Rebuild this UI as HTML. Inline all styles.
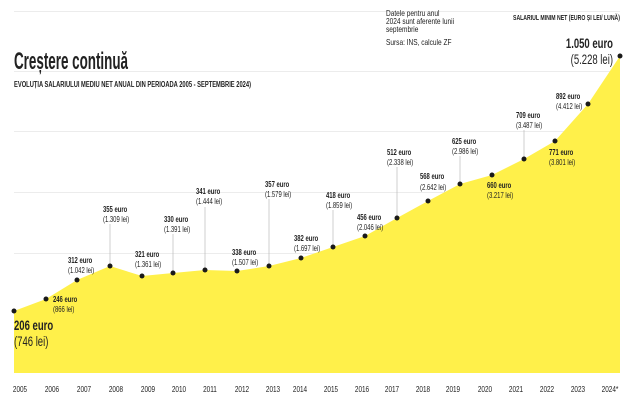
<!DOCTYPE html>
<html><head><meta charset="utf-8"><style>
html,body{margin:0;padding:0;background:#fff;width:629px;height:400px;overflow:hidden}
svg{display:block}
text{font-family:"Liberation Sans Narrow","Liberation Sans",sans-serif;fill:#222}
.b{font-weight:bold}
.c{transform-box:fill-box;transform-origin:0 0;transform:scaleX(.74)}
.cm{transform-box:fill-box;transform-origin:50% 0;transform:scaleX(.8)}
.ce{transform-box:fill-box;transform-origin:100% 0;transform:scaleX(.68)}
.cb{transform-box:fill-box;transform-origin:0 0;transform:scaleX(.68)}
.cn{transform-box:fill-box;transform-origin:0 0;transform:scaleX(.82)}
</style></head><body>
<svg width="629" height="400" viewBox="0 0 629 400">
<g stroke="#ececec" stroke-width="1">
<line x1="14" y1="11.5" x2="620" y2="11.5"/>
<line x1="14" y1="71.5" x2="620" y2="71.5"/>
<line x1="14" y1="131.5" x2="620" y2="131.5"/>
<line x1="14" y1="192.5" x2="620" y2="192.5"/>
<line x1="14" y1="253.5" x2="620" y2="253.5"/>
</g>
<polygon fill="#fff04a" points="14,373 14,311 46,299 77,280 110,266 142,276 173,273 205,270 237,271 269,266 301,258 333,247 365,236 397,218 428,201 460,184 492,175 524,159 555,141 588,104 620,56 620,373"/>
<g stroke="#bbb" stroke-width="0.7">
<line x1="110" y1="224" x2="110" y2="266"/>
<line x1="173" y1="234" x2="173" y2="273"/>
<line x1="205" y1="207" x2="205" y2="270"/>
<line x1="269" y1="199" x2="269" y2="266"/>
<line x1="333" y1="210" x2="333" y2="247"/>
<line x1="397" y1="167" x2="397" y2="218"/>
<line x1="460" y1="156" x2="460" y2="184"/>
<line x1="524" y1="130" x2="524" y2="159"/>
</g>
<g fill="#1a1a1a">
<circle cx="14" cy="311" r="2.5"/><circle cx="46" cy="299" r="2.5"/><circle cx="77" cy="280" r="2.5"/><circle cx="110" cy="266" r="2.5"/><circle cx="142" cy="276" r="2.5"/><circle cx="173" cy="273" r="2.5"/><circle cx="205" cy="270" r="2.5"/><circle cx="237" cy="271" r="2.5"/><circle cx="269" cy="266" r="2.5"/><circle cx="301" cy="258" r="2.5"/><circle cx="333" cy="247" r="2.5"/><circle cx="365" cy="236" r="2.5"/><circle cx="397" cy="218" r="2.5"/><circle cx="428" cy="201" r="2.5"/><circle cx="460" cy="184" r="2.5"/><circle cx="492" cy="175" r="2.5"/><circle cx="524" cy="159" r="2.5"/><circle cx="555" cy="141" r="2.5"/><circle cx="588" cy="104" r="2.5"/><circle cx="620" cy="56" r="2.5"/>
</g>
<text x="14" y="69" class="b" font-size="24" textLength="114" lengthAdjust="spacingAndGlyphs">Creștere continuă</text>
<text x="14" y="87" class="b" font-size="8" textLength="237" lengthAdjust="spacingAndGlyphs">EVOLUȚIA SALARIULUI MEDIU NET ANUAL DIN PERIOADA 2005 - SEPTEMBRIE 2024)</text>
<g font-size="8">
<text x="386" y="16" class="cn">Datele pentru anul</text>
<text x="386" y="24" class="cn">2024 sunt aferente lunii</text>
<text x="386" y="32" class="cn">septembrie</text>
<text x="386" y="45" class="cn">Sursa: INS, calcule ZF</text>
</g>
<text x="620" y="20" class="b" font-size="7.5" text-anchor="end" textLength="107" lengthAdjust="spacingAndGlyphs">SALARIUL MINIM NET (EURO ȘI LEI/ LUNĂ)</text>
<text x="613" y="48" class="b ce" font-size="14" text-anchor="end">1.050 euro</text>
<text x="613" y="64" class="ce" font-size="14" text-anchor="end">(5.228 lei)</text>
<text x="14" y="330" class="b cb" font-size="14">206 euro</text>
<text x="14" y="346" class="cb" font-size="14">(746 lei)</text>
<g font-size="8">
<text x="53" y="302" class="b c">246 euro</text><text x="53" y="312" class="c">(866 lei)</text>
<text x="68" y="263" class="b c">312 euro</text><text x="68" y="273" class="c">(1.042 lei)</text>
<text x="103" y="212" class="b c">355 euro</text><text x="103" y="222" class="c">(1.309 lei)</text>
<text x="135" y="257" class="b c">321 euro</text><text x="135" y="267" class="c">(1.361 lei)</text>
<text x="164" y="222" class="b c">330 euro</text><text x="164" y="232" class="c">(1.391 lei)</text>
<text x="196" y="194" class="b c">341 euro</text><text x="196" y="204" class="c">(1.444 lei)</text>
<text x="232" y="255" class="b c">338 euro</text><text x="232" y="265" class="c">(1.507 lei)</text>
<text x="265" y="187" class="b c">357 euro</text><text x="265" y="197" class="c">(1.579 lei)</text>
<text x="294" y="241" class="b c">382 euro</text><text x="294" y="251" class="c">(1.697 lei)</text>
<text x="326" y="198" class="b c">418 euro</text><text x="326" y="208" class="c">(1.859 lei)</text>
<text x="357" y="220" class="b c">456 euro</text><text x="357" y="230" class="c">(2.046 lei)</text>
<text x="387" y="155" class="b c">512 euro</text><text x="387" y="165" class="c">(2.338 lei)</text>
<text x="420" y="179" class="b c">568 euro</text><text x="420" y="190" class="c">(2.642 lei)</text>
<text x="452" y="144" class="b c">625 euro</text><text x="452" y="154" class="c">(2.986 lei)</text>
<text x="487" y="188" class="b c">660 euro</text><text x="487" y="198" class="c">(3.217 lei)</text>
<text x="516" y="118" class="b c">709 euro</text><text x="516" y="128" class="c">(3.487 lei)</text>
<text x="549" y="155" class="b c">771 euro</text><text x="549" y="165" class="c">(3.801 lei)</text>
<text x="556" y="99" class="b c">892 euro</text><text x="556" y="109" class="c">(4.412 lei)</text>
</g>
<g font-size="8" text-anchor="middle">
<text class="cm" x="20" y="392">2005</text><text class="cm" x="52" y="392">2006</text><text class="cm" x="84" y="392">2007</text><text class="cm" x="116" y="392">2008</text><text class="cm" x="148" y="392">2009</text><text class="cm" x="179" y="392">2010</text><text class="cm" x="210" y="392">2011</text><text class="cm" x="242" y="392">2012</text><text class="cm" x="273" y="392">2013</text><text class="cm" x="300" y="392">2014</text><text class="cm" x="331" y="392">2015</text><text class="cm" x="362" y="392">2016</text><text class="cm" x="392" y="392">2017</text><text class="cm" x="423" y="392">2018</text><text class="cm" x="453" y="392">2019</text><text class="cm" x="485" y="392">2020</text><text class="cm" x="516" y="392">2021</text><text class="cm" x="547" y="392">2022</text><text class="cm" x="578" y="392">2023</text><text class="cm" x="610" y="392">2024*</text>
</g>
</svg>
</body></html>
